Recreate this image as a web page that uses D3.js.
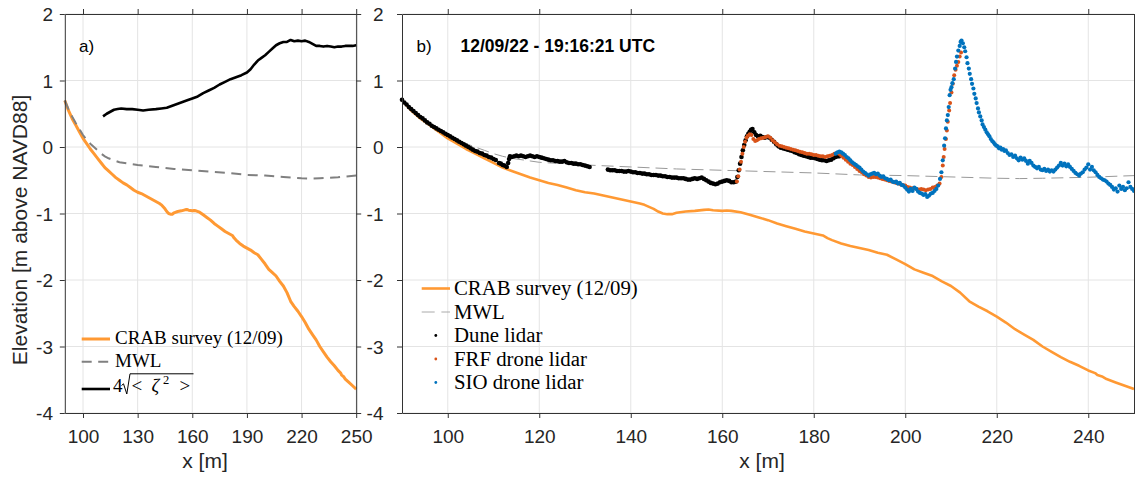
<!DOCTYPE html>
<html><head><meta charset="utf-8">
<script src="https://cdn.jsdelivr.net/npm/d3@7"></script>
<style>body{margin:0;background:#fff} svg{display:block}</style>
</head><body>
<svg id="c" width="1135" height="485"></svg>
<script>
const xDomain = [90, 250];
const yDomain = [-4, 2];
const xTicksA = [100, 130, 160, 190, 220, 250];
const xTicksB = [100, 120, 140, 160, 180, 200, 220, 240];
const yTicks = [-4, -3, -2, -1, 0, 1, 2];

// CRAB survey (12/09) bathymetry profile [x, z]
const crab = [[90,0.70],[92,0.55],[94,0.43],[96,0.33],[98,0.23],[100,0.13],[102,0.05],[104,-0.03],[106,-0.10],[108,-0.17],[110,-0.24],[112,-0.31],[114,-0.36],[116,-0.41],[118,-0.46],[120,-0.50],[122,-0.54],[124,-0.57],[126,-0.61],[128,-0.65],[130,-0.68],[132,-0.70],[134,-0.73],[136,-0.76],[138,-0.79],[140,-0.82],[142,-0.85],[143,-0.87],[144,-0.90],[145,-0.93],[146,-0.97],[147,-1.00],[148,-1.01],[149,-1.01],[150,-0.99],[152,-0.97],[154,-0.96],[156,-0.945],[157,-0.94],[158,-0.95],[160,-0.96],[161,-0.955],[162,-0.96],[164,-0.98],[166,-1.02],[168,-1.06],[170,-1.10],[172,-1.15],[174,-1.19],[176,-1.23],[178,-1.27],[180,-1.30],[182,-1.33],[183,-1.37],[184,-1.40],[186,-1.45],[188,-1.49],[190,-1.52],[192,-1.55],[194,-1.59],[196,-1.62],[198,-1.69],[200,-1.76],[202,-1.84],[204,-1.89],[206,-1.94],[208,-2.02],[210,-2.09],[212,-2.19],[214,-2.32],[216,-2.40],[218,-2.47],[220,-2.55],[222,-2.64],[224,-2.74],[226,-2.82],[228,-2.90],[230,-3.00],[232,-3.08],[234,-3.16],[236,-3.23],[238,-3.29],[240,-3.36],[241.5,-3.40],[242,-3.43],[243,-3.45],[244,-3.49],[246,-3.54],[248,-3.59],[250,-3.64]];

// Mean water level
const mwl = [[90,0.70],[92,0.57],[94,0.46],[96,0.36],[98,0.27],[100,0.18],[102,0.11],[104,0.05],[106,0.0],[108,-0.05],[110,-0.10],[112,-0.14],[114,-0.17],[116,-0.19],[118,-0.21],[120,-0.23],[125,-0.25],[130,-0.27],[140,-0.30],[150,-0.33],[160,-0.35],[170,-0.37],[180,-0.39],[190,-0.42],[200,-0.43],[210,-0.45],[220,-0.47],[225,-0.475],[230,-0.47],[240,-0.455],[250,-0.43]];

// 4 sqrt(<zeta^2>) (panel a)
const wave = [[111,0.46],[113,0.50],[115,0.53],[117,0.56],[119,0.57],[121,0.58],[124,0.57],[127,0.57],[130,0.56],[133,0.55],[136,0.56],[140,0.57],[143,0.58],[146,0.59],[149,0.62],[152,0.65],[155,0.68],[158,0.71],[160,0.73],[163,0.76],[166,0.81],[169,0.85],[172,0.89],[175,0.94],[178,0.98],[181,1.02],[184,1.05],[187,1.08],[190,1.12],[192,1.17],[194,1.24],[196,1.30],[198,1.34],[200,1.38],[202,1.43],[204,1.48],[206,1.53],[208,1.56],[210,1.58],[212,1.58],[214,1.61],[216,1.59],[218,1.60],[220,1.59],[222,1.60],[224,1.58],[226,1.55],[228,1.52],[230,1.52],[232,1.51],[234,1.52],[236,1.51],[238,1.50],[240,1.51],[242,1.51],[244,1.52],[246,1.52],[248,1.52],[250,1.53]];

// Dune lidar points
const dune = [[90.0,0.71],[90.5,0.67],[91.0,0.64],[91.5,0.60],[92.0,0.57],[92.5,0.54],[93.0,0.51],[93.5,0.48],[94.0,0.45],[94.5,0.43],[95.0,0.40],[95.5,0.37],[96.0,0.35],[96.5,0.32],[97.0,0.30],[97.5,0.28],[98.0,0.26],[98.5,0.24],[99.0,0.22],[99.5,0.20],[100.0,0.18],[100.5,0.16],[101.0,0.14],[101.5,0.12],[102.0,0.10],[102.5,0.08],[103.0,0.06],[103.5,0.04],[104.0,0.02],[104.5,0.00],[105.0,-0.02],[105.5,-0.04],[106.0,-0.06],[106.5,-0.07],[107.0,-0.09],[107.5,-0.10],[108.0,-0.12],[108.5,-0.13],[109.0,-0.15],[109.5,-0.16],[110.0,-0.18],[110.5,-0.195],
[111.2,-0.24],[111.6,-0.25],[112.0,-0.27],[112.4,-0.28],[112.9,-0.30],[113.2,-0.24],[113.4,-0.18],[113.6,-0.14],[114.0,-0.15],[114.5,-0.14],[115.0,-0.13],[115.5,-0.14],[116.0,-0.13],[116.5,-0.14],[117.0,-0.15],[117.5,-0.14],[118.0,-0.13],[118.5,-0.14],[119.0,-0.15],[119.5,-0.14],[120.0,-0.15],[120.5,-0.16],[121.0,-0.17],[121.5,-0.18],[122.0,-0.19],[122.5,-0.20],[123.0,-0.20],[123.5,-0.21],[124.0,-0.21],[124.5,-0.22],[125.0,-0.22],[125.5,-0.21],[126.0,-0.23],[126.5,-0.24],[127.0,-0.24],[127.5,-0.25],[128.0,-0.25],[128.5,-0.26],[129.0,-0.26],[129.5,-0.27],[130.0,-0.28],[130.5,-0.29],[131.0,-0.30],
[135.0,-0.34],[135.5,-0.35],[136.0,-0.35],[136.5,-0.35],[137.0,-0.36],[137.5,-0.36],[138.0,-0.36],[138.5,-0.37],[139.0,-0.37],[139.5,-0.36],[140.0,-0.37],[140.5,-0.38],[141.0,-0.38],[141.5,-0.39],[142.0,-0.39],[142.5,-0.40],[143.0,-0.40],[143.5,-0.41],[144.0,-0.41],[144.5,-0.42],[145.0,-0.42],[145.5,-0.42],[146.0,-0.43],[146.5,-0.43],[147.0,-0.44],[147.5,-0.44],[148.0,-0.45],[148.5,-0.45],[149.0,-0.46],[149.5,-0.46],[150.0,-0.46],[150.5,-0.47],[151.0,-0.47],[151.5,-0.47],[152.0,-0.48],[152.5,-0.49],[153.0,-0.49],[153.5,-0.48],[154.0,-0.47],[154.5,-0.48],[155.0,-0.47],[155.5,-0.46],[156.0,-0.48],[156.5,-0.50],[157.0,-0.52],[157.5,-0.54],[158.0,-0.55],[158.5,-0.56],[159.0,-0.55],[159.5,-0.53],[160.0,-0.52],[160.5,-0.51],[161.0,-0.50],[161.5,-0.51],[162.0,-0.53],[162.5,-0.53],[163.0,-0.52],[163.3,-0.45],[163.6,-0.35],[163.9,-0.25],[164.2,-0.15],[164.5,-0.05],[164.8,0.03],[165.1,0.10],[165.4,0.16],[165.7,0.20],[166.0,0.23],[166.3,0.26],[166.6,0.27],[167.0,0.22],[167.4,0.18],[167.8,0.16],[168.3,0.17],[168.8,0.15],[169.3,0.14],[169.8,0.15],[170.3,0.14],[170.8,0.11],[171.3,0.08],[171.8,0.04],[172.3,0.01],[172.8,-0.01],[173.3,-0.02],[173.8,-0.03],[174.3,-0.04],[174.8,-0.05],[175.3,-0.06],[175.8,-0.08],[176.3,-0.09],[176.8,-0.11],[177.3,-0.12],[177.8,-0.13],[178.3,-0.14],[178.8,-0.15],[179.3,-0.16],[179.8,-0.16],[180.3,-0.17],[180.8,-0.18],[181.3,-0.19],[181.8,-0.20],[182.3,-0.20],[182.8,-0.21],[183.3,-0.20],[183.8,-0.19],[184.3,-0.17],[184.8,-0.15],[185.3,-0.14],[185.6,-0.14]];

// FRF drone lidar points
const frf = [[163.2,-0.52],[163.5,-0.44],[163.8,-0.34],[164.1,-0.22],[164.4,-0.10],[164.7,0.00],[165.0,0.08],[165.3,0.14],[165.6,0.17],[166.0,0.19],[166.4,0.18],[166.8,0.12],[167.2,0.09],[167.6,0.10],[168.0,0.12],[168.5,0.13],[169.0,0.14],[169.5,0.15],[170.0,0.16],[170.5,0.14],[171.0,0.10],[171.5,0.07],[172.0,0.04],[172.5,0.02],[173.0,0.01],[173.5,0.00],[174.0,-0.01],[174.5,-0.02],[175.0,-0.03],[175.5,-0.04],[176.0,-0.05],[176.5,-0.06],[177.0,-0.07],[177.5,-0.08],[178.0,-0.09],[178.5,-0.10],[179.0,-0.10],[179.5,-0.11],[180.0,-0.12],[180.5,-0.12],[181.0,-0.13],[181.5,-0.14],[182.0,-0.14],[182.5,-0.15],[183.0,-0.14],[183.5,-0.13],[184.0,-0.12],[184.5,-0.10],[185.0,-0.09],[185.5,-0.10],[186.0,-0.13],[186.5,-0.16],[187.0,-0.19],[187.5,-0.22],[188.0,-0.25],[188.5,-0.27],[189.0,-0.30],[189.5,-0.33],[190.0,-0.36],[190.5,-0.38],[191.0,-0.41],[191.5,-0.43],[192.0,-0.45],[192.5,-0.46],[193.0,-0.45],[193.5,-0.45],[194.0,-0.46],[194.5,-0.47],[195.0,-0.48],[195.5,-0.49],[196.0,-0.50],[196.5,-0.51],[197.0,-0.52],[197.5,-0.53],[198.0,-0.54],[198.5,-0.55],[199.0,-0.56],[199.5,-0.57],[200.0,-0.58],[200.5,-0.60],[201.0,-0.61],[201.5,-0.62],[202.0,-0.62],[202.5,-0.63],[203.0,-0.64],[203.5,-0.63],[204.0,-0.64],[204.5,-0.65],[205.0,-0.64],[205.5,-0.63],[206.0,-0.61],[206.5,-0.60],[207.0,-0.58],[207.5,-0.55],[207.9,-0.45],[208.2,-0.28],[208.4,-0.15],[208.6,-0.03],[208.9,0.12],[209.1,0.25],[209.3,0.38],[209.6,0.55],[209.8,0.66],[210.1,0.82],[210.4,0.95],[210.7,1.08],[211.0,1.16],[211.3,1.22],[211.6,1.28],[211.9,1.36],[212.2,1.42]];

// SIO drone lidar points
const sio = [[184.8,-0.10],[185.2,-0.08],[185.6,-0.07],[186.0,-0.08],[186.4,-0.10],[186.8,-0.12],[187.2,-0.15],[187.6,-0.17],[188.0,-0.20],[188.4,-0.23],[188.8,-0.25],[189.2,-0.27],[189.6,-0.29],[190.0,-0.31],[190.4,-0.34],[190.8,-0.37],[191.2,-0.39],[191.6,-0.41],[192.0,-0.43],[192.4,-0.41],[192.8,-0.40],[193.2,-0.39],[193.6,-0.41],[194.0,-0.40],[194.4,-0.43],[194.8,-0.45],[195.2,-0.44],[195.6,-0.47],[196.0,-0.48],[196.4,-0.50],[196.8,-0.49],[197.2,-0.52],[197.6,-0.53],[198.0,-0.52],[198.4,-0.55],[198.8,-0.54],[199.2,-0.57],[199.6,-0.58],[200.0,-0.61],[200.4,-0.64],[200.8,-0.67],[201.2,-0.63],[201.6,-0.66],[202.0,-0.61],[202.4,-0.63],[202.8,-0.67],[203.2,-0.69],[203.6,-0.70],[204.0,-0.72],[204.4,-0.71],[204.8,-0.75],[205.2,-0.73],[205.6,-0.70],[206.0,-0.69],[206.4,-0.66],[206.8,-0.63],[207.2,-0.58],[207.6,-0.48],[207.9,-0.38],[208.2,-0.20],[208.5,0.02],[208.7,0.13],[208.9,0.28],[209.1,0.40],[209.3,0.48],[209.5,0.60],[209.7,0.78],[209.9,0.86],[210.1,0.90],[210.3,0.96],[210.6,1.02],[210.9,1.18],[211.1,1.28],[211.3,1.36],[211.6,1.45],[211.9,1.52],[212.1,1.58],[212.3,1.60],[212.6,1.56],[212.9,1.50],[213.1,1.44],[213.4,1.35],[213.6,1.26],[213.9,1.18],[214.1,1.10],[214.4,1.02],[214.6,0.95],[214.9,0.88],[215.1,0.80],[215.4,0.73],[215.6,0.66],[215.9,0.58],[216.1,0.52],[216.4,0.46],[216.7,0.40],[216.9,0.34],[217.2,0.30],[217.5,0.26],[217.8,0.22],[218.1,0.19],[218.4,0.16],[218.7,0.12],[219.0,0.09],[219.3,0.07],[219.6,0.04],[219.9,0.02],[220.2,0.01],[220.5,-0.02],[220.8,-0.01],[221.1,-0.04],[221.4,-0.03],[221.7,-0.06],[222.0,-0.05],[222.4,-0.09],[222.8,-0.12],[223.2,-0.11],[223.6,-0.15],[224.0,-0.13],[224.4,-0.17],[224.8,-0.20],[225.2,-0.16],[225.6,-0.19],[226.0,-0.17],[226.4,-0.21],[226.8,-0.25],[227.2,-0.21],[227.6,-0.24],[228.0,-0.28],[228.4,-0.30],[228.8,-0.32],[229.2,-0.30],[229.6,-0.34],[230.0,-0.35],[230.4,-0.33],[230.8,-0.36],[231.2,-0.34],[231.6,-0.37],[232.0,-0.35],[232.4,-0.37],[232.8,-0.34],[233.2,-0.31],[233.6,-0.28],[234.0,-0.24],[234.4,-0.28],[234.8,-0.25],[235.2,-0.29],[235.6,-0.26],[236.0,-0.30],[236.4,-0.33],[236.8,-0.36],[237.2,-0.39],[237.6,-0.41],[238.0,-0.43],[238.4,-0.40],[238.8,-0.38],[239.2,-0.34],[239.6,-0.31],[240.0,-0.26],[240.4,-0.34],[240.8,-0.30],[241.2,-0.35],[241.6,-0.38],[242.0,-0.42],[242.4,-0.45],[242.8,-0.47],[243.2,-0.49],[243.6,-0.50],[244.0,-0.52],[244.4,-0.55],[244.8,-0.57],[245.2,-0.60],[245.6,-0.64],[246.0,-0.62],[246.4,-0.67],[246.8,-0.58],[247.2,-0.63],[247.6,-0.60],[248.0,-0.65],[248.4,-0.62],[248.8,-0.53],[249.2,-0.60],[249.6,-0.63],[250.0,-0.66]];

const legendA = ["CRAB survey (12/09)", "MWL"];
const legendB = ["CRAB survey (12/09)", "MWL", "Dune lidar", "FRF drone lidar", "SIO drone lidar"];

const C_ORANGE = "#ff9933", C_FRF = "#d95319", C_SIO = "#0072bd";
const SANS = "'Liberation Sans', Arial, Helvetica, sans-serif";
const SERIF = "'Liberation Serif', 'Times New Roman', serif";
const INK = "#262626";

const svg = d3.select("#c");
const y = d3.scaleLinear().domain(yDomain).range([413, 14]);
const xa = d3.scaleLinear().domain(xDomain).range([64.8, 356.2]);
const xb = d3.scaleLinear().domain(xDomain).range([402, 1134]);

function grid(g, x, xticks) {
  g.append("g").selectAll("line").data(xticks).join("line")
    .attr("x1", d => x(d)).attr("x2", d => x(d)).attr("y1", y(yDomain[1])).attr("y2", y(yDomain[0]))
    .attr("stroke", "#e4e4e4").attr("stroke-width", 1);
  g.append("g").selectAll("line").data(yTicks).join("line")
    .attr("y1", d => y(d)).attr("y2", d => y(d)).attr("x1", x(xDomain[0])).attr("x2", x(xDomain[1]))
    .attr("stroke", "#e4e4e4").attr("stroke-width", 1);
}

function axes(g, x, xticks, yLabelX) {
  const [x0, x1] = x.range();
  const fmt = d => String(d);
  const b = g.append("g").attr("transform", `translate(0,${y(yDomain[0])})`)
    .call(d3.axisBottom(x).tickValues(xticks).tickSize(5).tickSizeOuter(0).tickFormat(fmt));
  b.selectAll("text").attr("y", 30).attr("dy", 0);
  g.append("g").attr("transform", `translate(0,${y(yDomain[1])})`)
    .call(d3.axisTop(x).tickValues(xticks).tickSize(5).tickSizeOuter(0).tickFormat(""));
  const l = g.append("g").attr("transform", `translate(${x0},0)`)
    .call(d3.axisLeft(y).tickValues(yTicks).tickSize(5).tickSizeOuter(0).tickFormat(fmt));
  l.selectAll("text").attr("x", yLabelX - x0).attr("dy", "0.35em");
  g.append("g").attr("transform", `translate(${x1},0)`)
    .call(d3.axisRight(y).tickValues(yTicks).tickSize(5).tickSizeOuter(0).tickFormat(""));
  g.selectAll(".domain, .tick line").attr("stroke", "#333").attr("stroke-width", 1);
  g.selectAll(".tick text").attr("fill", INK).attr("font-family", SANS).attr("font-size", 19);
}

const lineGen = x => d3.line().x(d => x(d[0])).y(d => y(d[1]));

// ---------- Panel a ----------
const ga = svg.append("g");
grid(ga, xa, xTicksA);
ga.append("path").datum(crab).attr("d", lineGen(xa)).attr("fill", "none").attr("stroke", C_ORANGE).attr("stroke-width", 3).attr("stroke-linejoin", "round");
ga.append("path").datum(mwl).attr("d", lineGen(xa)).attr("fill", "none").attr("stroke", "#808080").attr("stroke-width", 2).attr("stroke-dasharray", "10,6.5");
ga.append("path").datum(wave).attr("d", lineGen(xa)).attr("fill", "none").attr("stroke", "#000").attr("stroke-width", 2.6).attr("stroke-linejoin", "round");
axes(ga, xa, xTicksA, 53);
ga.append("text").attr("x", 79).attr("y", 51.5).attr("font-family", SANS).attr("font-size", 17).attr("fill", "#000").text("a)");

// legend a
const la = ga.append("g");
la.append("line").attr("x1", 81.7).attr("x2", 110).attr("y1", 339).attr("y2", 339).attr("stroke", C_ORANGE).attr("stroke-width", 3);
la.append("line").attr("x1", 81.7).attr("x2", 110).attr("y1", 361.7).attr("y2", 361.7).attr("stroke", "#808080").attr("stroke-width", 2).attr("stroke-dasharray", "10,6.5");
la.append("line").attr("x1", 81.7).attr("x2", 110).attr("y1", 389).attr("y2", 389).attr("stroke", "#000").attr("stroke-width", 2.6);
la.selectAll("text.lg").data(legendA).join("text").attr("class", "lg")
  .attr("x", 115).attr("y", (d, i) => [344, 366.7][i])
  .attr("font-family", SERIF).attr("font-size", 19).attr("fill", "#000").text(d => d);
// 4 sqrt(< zeta^2 >)
const fm = la.append("g").attr("font-family", SERIF).attr("fill", "#000");
fm.append("text").attr("x", 113).attr("y", 391.5).attr("font-size", 19).text("4");
la.append("path").attr("d", "M121.5,385.5 L123.5,383.8 L126.8,394 L130,373.8 L193.5,373.8").attr("fill", "none").attr("stroke", "#000").attr("stroke-width", 1);
fm.append("text").attr("x", 131.5).attr("y", 391.5).attr("font-size", 19).text("<");
fm.append("text").attr("x", 151.5).attr("y", 391.5).attr("font-size", 19).attr("font-style", "italic").text("ζ");
fm.append("text").attr("x", 163).attr("y", 384).attr("font-size", 12.5).text("2");
fm.append("text").attr("x", 179.5).attr("y", 391.5).attr("font-size", 19).text(">");

// ---------- Panel b ----------
const gb = svg.append("g");
grid(gb, xb, xTicksB);
gb.append("path").datum(crab).attr("d", lineGen(xb)).attr("fill", "none").attr("stroke", C_ORANGE).attr("stroke-width", 2.6).attr("stroke-linejoin", "round");
gb.append("path").datum(mwl).attr("d", lineGen(xb)).attr("fill", "none").attr("stroke", "#999").attr("stroke-width", 1).attr("stroke-dasharray", "12,6");
gb.append("g").selectAll("circle").data(dune).join("circle")
  .attr("cx", d => xb(d[0])).attr("cy", d => y(d[1])).attr("r", 2.3).attr("fill", "#000");
gb.append("g").selectAll("circle").data(frf).join("circle")
  .attr("cx", d => xb(d[0])).attr("cy", d => y(d[1])).attr("r", 2).attr("fill", C_FRF);
gb.append("g").selectAll("circle").data(sio).join("circle")
  .attr("cx", d => xb(d[0])).attr("cy", d => y(d[1])).attr("r", 2.1).attr("fill", C_SIO);
axes(gb, xb, xTicksB, 383.5);
gb.append("text").attr("x", 416.5).attr("y", 51.5).attr("font-family", SANS).attr("font-size", 17).attr("fill", "#000").text("b)");
gb.append("text").attr("x", 460.5).attr("y", 52).attr("font-family", SANS).attr("font-size", 17.5).attr("font-weight", "bold").attr("fill", "#000").text("12/09/22 - 19:16:21 UTC");

// legend b
const lb = gb.append("g");
const rowB = [295, 318.5, 342, 365.5, 389];
lb.append("line").attr("x1", 421.7).attr("x2", 450).attr("y1", rowB[0] - 6.5).attr("y2", rowB[0] - 6.5).attr("stroke", C_ORANGE).attr("stroke-width", 2.6);
lb.append("line").attr("x1", 421.7).attr("x2", 450).attr("y1", rowB[1] - 6.5).attr("y2", rowB[1] - 6.5).attr("stroke", "#aaa").attr("stroke-width", 1).attr("stroke-dasharray", "13,6.7");
[["#000", 2], [C_FRF, 3], [C_SIO, 4]].forEach(([c, i]) => {
  lb.append("circle").attr("cx", 435.8).attr("cy", rowB[i] - 6.5).attr("r", 1.4).attr("fill", c);
});
lb.selectAll("text.lg").data(legendB).join("text").attr("class", "lg")
  .attr("x", 454).attr("y", (d, i) => rowB[i])
  .attr("font-family", SERIF).attr("font-size", 20.8).attr("fill", "#000").text(d => d);

// ---------- axis titles ----------
svg.append("text").attr("transform", "translate(27,230) rotate(-90)").attr("text-anchor", "middle")
  .attr("font-family", SANS).attr("font-size", 21).attr("fill", INK).text("Elevation [m above NAVD88]");
svg.append("text").attr("x", 205).attr("y", 467.5).attr("text-anchor", "middle")
  .attr("font-family", SANS).attr("font-size", 21).attr("fill", INK).text("x [m]");
svg.append("text").attr("x", 762).attr("y", 467.5).attr("text-anchor", "middle")
  .attr("font-family", SANS).attr("font-size", 21).attr("fill", INK).text("x [m]");
</script>
</body></html>
